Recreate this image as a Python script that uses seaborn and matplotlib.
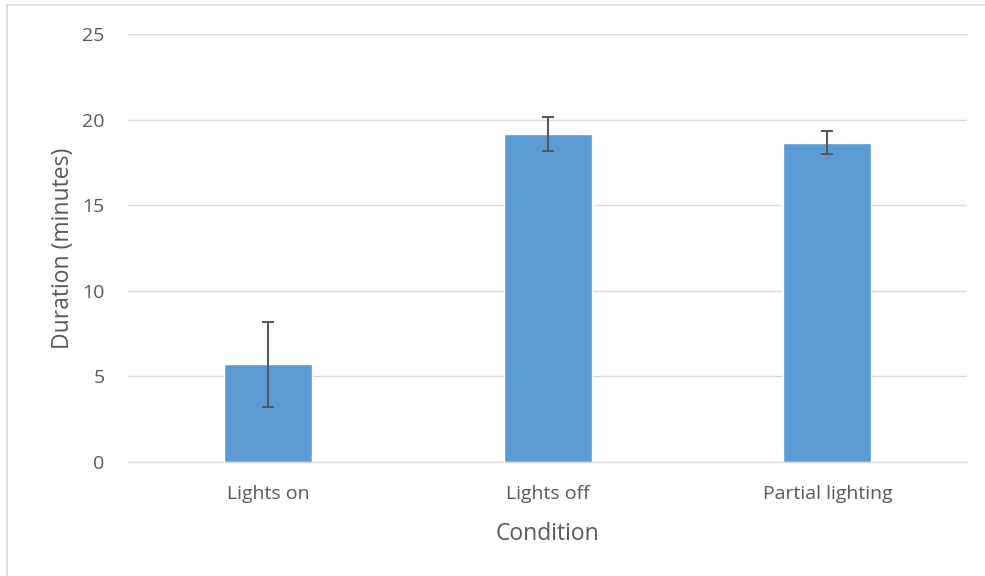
import pandas as pd
import seaborn as sns
import matplotlib.pyplot as plt
from matplotlib.patches import Rectangle

# valores
condicoes = ['Lights on', 'Lights off', 'Partial lighting']
duracao = [5.7, 19.15, 18.65]
erro = [2.5, 1.0, 0.68]
yticks = [0, 5, 10, 15, 20, 25]

cinza_texto = '#595959'

sns.set_theme(style="white")
plt.rcParams['font.family'] = ['Open Sans', 'DejaVu Sans']

fig = plt.figure(figsize=(9.85, 5.76), dpi=100)
ax = fig.add_axes([0.130, 0.198, 0.852, 0.743])

df = pd.DataFrame({'Condition': condicoes, 'Duration': duracao})
sns.barplot(data=df, x='Condition', y='Duration', color='#5B9BD5',
            saturation=1, width=0.315, ax=ax, zorder=3)

# barras de erro
ax.errorbar(range(len(condicoes)), duracao, yerr=erro, fmt='none',
            ecolor=cinza_texto, elinewidth=1.5, capsize=4, capthick=1.5, zorder=4)

ax.set_ylim(0, 25)
ax.set_yticks(yticks)
ax.set_xlim(-0.5, len(condicoes) - 0.5)
ax.yaxis.grid(True, color='#D9D9D9', linewidth=1, zorder=0)
ax.set_axisbelow(True)

for s in ['top', 'right', 'left']:
    ax.spines[s].set_visible(False)
ax.spines['bottom'].set_color('#D9D9D9')
ax.spines['bottom'].set_linewidth(1)

ax.tick_params(axis='both', length=0, labelsize=14, colors=cinza_texto)
ax.tick_params(axis='y', pad=17)
ax.tick_params(axis='x', pad=16.5)

ax.set_xlabel('Condition', fontsize=16.5, color=cinza_texto, labelpad=14)
ax.set_ylabel('Duration (minutes)', fontsize=16.5, color=cinza_texto, labelpad=5)

# moldura do gráfico
fig.patches.append(Rectangle((7 / 985, -0.01), 1.02, 1 - 5 / 576 + 0.01,
                             transform=fig.transFigure, fill=False,
                             edgecolor='#D9D9D9', linewidth=1.2, zorder=0))

fig.savefig('out.png', dpi=100)
